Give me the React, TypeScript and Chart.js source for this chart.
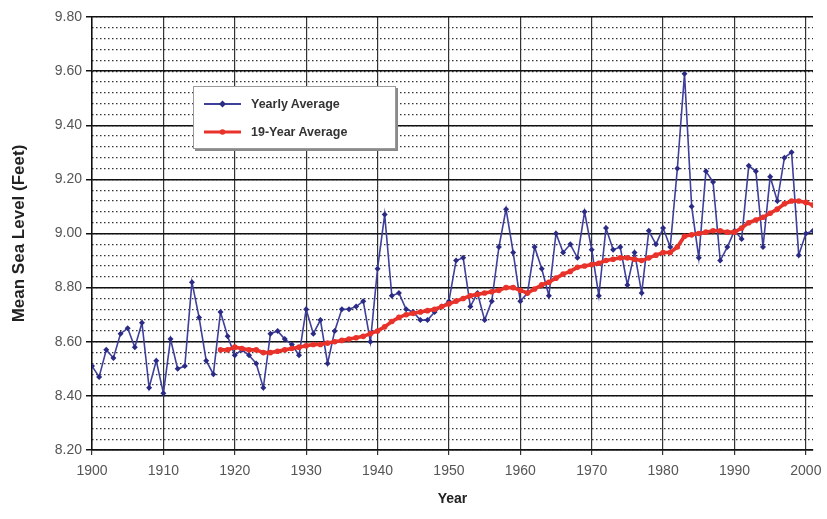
import React, { useEffect, useRef } from 'react';
import { Chart, registerables } from 'chart.js';

Chart.register(...registerables);

// ---- data ----
const YEARS = [
  1900, 1901, 1902, 1903, 1904, 1905, 1906, 1907, 1908, 1909,
  1910, 1911, 1912, 1913, 1914, 1915, 1916, 1917, 1918, 1919,
  1920, 1921, 1922, 1923, 1924, 1925, 1926, 1927, 1928, 1929,
  1930, 1931, 1932, 1933, 1934, 1935, 1936, 1937, 1938, 1939,
  1940, 1941, 1942, 1943, 1944, 1945, 1946, 1947, 1948, 1949,
  1950, 1951, 1952, 1953, 1954, 1955, 1956, 1957, 1958, 1959,
  1960, 1961, 1962, 1963, 1964, 1965, 1966, 1967, 1968, 1969,
  1970, 1971, 1972, 1973, 1974, 1975, 1976, 1977, 1978, 1979,
  1980, 1981, 1982, 1983, 1984, 1985, 1986, 1987, 1988, 1989,
  1990, 1991, 1992, 1993, 1994, 1995, 1996, 1997, 1998, 1999,
  2000, 2001,
];

const YEARLY_AVERAGE = [
  8.51, 8.47, 8.57, 8.54, 8.63, 8.65, 8.58, 8.67, 8.43, 8.53,
  8.41, 8.61, 8.50, 8.51, 8.82, 8.69, 8.53, 8.48, 8.71, 8.62,
  8.55, 8.57, 8.55, 8.52, 8.43, 8.63, 8.64, 8.61, 8.59, 8.55,
  8.72, 8.63, 8.68, 8.52, 8.64, 8.72, 8.72, 8.73, 8.75, 8.60,
  8.87, 9.07, 8.77, 8.78, 8.72, 8.71, 8.68, 8.68, 8.71, 8.73,
  8.75, 8.90, 8.91, 8.73, 8.78, 8.68, 8.75, 8.95, 9.09, 8.93,
  8.75, 8.78, 8.95, 8.87, 8.77, 9.00, 8.93, 8.96, 8.91, 9.08,
  8.94, 8.77, 9.02, 8.94, 8.95, 8.81, 8.93, 8.78, 9.01, 8.96,
  9.02, 8.95, 9.24, 9.59, 9.10, 8.91, 9.23, 9.19, 8.90, 8.95,
  9.01, 8.98, 9.25, 9.23, 8.95, 9.21, 9.12, 9.28, 9.30, 8.92,
  9.00, 9.01,
];

const AVG_YEARS = [
  1918, 1919, 1920, 1921, 1922, 1923, 1924, 1925, 1926, 1927,
  1928, 1929, 1930, 1931, 1932, 1933, 1934, 1935, 1936, 1937,
  1938, 1939, 1940, 1941, 1942, 1943, 1944, 1945, 1946, 1947,
  1948, 1949, 1950, 1951, 1952, 1953, 1954, 1955, 1956, 1957,
  1958, 1959, 1960, 1961, 1962, 1963, 1964, 1965, 1966, 1967,
  1968, 1969, 1970, 1971, 1972, 1973, 1974, 1975, 1976, 1977,
  1978, 1979, 1980, 1981, 1982, 1983, 1984, 1985, 1986, 1987,
  1988, 1989, 1990, 1991, 1992, 1993, 1994, 1995, 1996, 1997,
  1998, 1999, 2000, 2001,
];

const NINETEEN_YEAR_AVERAGE = [
  8.570, 8.570, 8.580, 8.575, 8.570, 8.570, 8.560, 8.560, 8.565, 8.570,
  8.575, 8.580, 8.585, 8.590, 8.590, 8.595, 8.600, 8.605, 8.610, 8.615,
  8.620, 8.630, 8.640, 8.655, 8.675, 8.690, 8.700, 8.705, 8.710, 8.715,
  8.720, 8.730, 8.740, 8.750, 8.760, 8.770, 8.775, 8.780, 8.785, 8.790,
  8.800, 8.800, 8.790, 8.780, 8.795, 8.810, 8.820, 8.835, 8.850, 8.860,
  8.875, 8.880, 8.885, 8.890, 8.900, 8.905, 8.910, 8.910, 8.905, 8.900,
  8.910, 8.920, 8.930, 8.930, 8.950, 8.990, 8.995, 9.000, 9.005, 9.010,
  9.010, 9.005, 9.005, 9.020, 9.040, 9.050, 9.060, 9.075, 9.090, 9.110,
  9.120, 9.120, 9.115, 9.105,
];

const SERIES_LABELS = ['Yearly Average', '19-Year Average'];
const SERIES_COLORS = ['#3f3f9c', '#e8322a'];
const MARKER_COLORS = ['#2b2b85', '#e8322a'];

const X_TITLE = 'Year';
const Y_TITLE = 'Mean Sea Level (Feet)';
const X_MIN = 1900;
const X_MAX = 2001;
const X_STEP = 10;
const Y_MIN = 8.2;
const Y_MAX = 9.8;
const Y_MAJOR_STEP = 0.2;
const Y_MINOR_STEP = 0.04;

const FONT = "Arial, 'Liberation Sans', Helvetica, sans-serif";

function Legend() {
  return (
    <div
      style={{
        position: 'absolute',
        left: 193,
        top: 86,
        width: 203,
        height: 63,
        boxSizing: 'border-box',
        background: '#ffffff',
        border: '1px solid #9a9a9a',
        boxShadow: '2px 2px 0 #8a8a8a',
        paddingTop: 3,
        fontFamily: FONT,
        fontWeight: 'bold',
        fontSize: 12.5,
        color: '#333',
      }}
    >
      {SERIES_LABELS.map((label, i) => (
        <div key={label} style={{ display: 'flex', alignItems: 'center', height: 28, paddingLeft: 10 }}>
          <svg width={37} height={10} style={{ display: 'block' }}>
            <line x1={0} y1={5} x2={37} y2={5} stroke={SERIES_COLORS[i]} strokeWidth={i === 0 ? 1.8 : 3} />
            {i === 0 ? (
              <polygon points="18.5,1.5 22,5 18.5,8.5 15,5" fill={MARKER_COLORS[i]} />
            ) : (
              <circle cx={18.5} cy={5} r={2.8} fill={MARKER_COLORS[i]} />
            )}
          </svg>
          <span style={{ marginLeft: 10, whiteSpace: 'nowrap' }}>{label}</span>
        </div>
      ))}
    </div>
  );
}

export default function App() {
  const canvasRef = useRef<HTMLCanvasElement | null>(null);

  useEffect(() => {
    const canvas = canvasRef.current;
    if (!canvas) return;

    const yearlyPoints = YEARS.map((x, i) => ({ x, y: YEARLY_AVERAGE[i] }));
    const avgPoints = AVG_YEARS.map((x, i) => ({ x, y: NINETEEN_YEAR_AVERAGE[i] }));

    const chart = new Chart(canvas, {
      type: 'line',
      data: {
        datasets: [
          {
            label: SERIES_LABELS[0],
            data: yearlyPoints,
            borderColor: SERIES_COLORS[0],
            backgroundColor: MARKER_COLORS[0],
            borderWidth: 1.6,
            pointStyle: 'rectRot',
            pointRadius: 3,
            pointBorderWidth: 0,
            pointBackgroundColor: MARKER_COLORS[0],
            tension: 0,
            order: 2,
            xAxisID: 'x',
            yAxisID: 'y',
          },
          {
            label: SERIES_LABELS[1],
            data: avgPoints,
            borderColor: SERIES_COLORS[1],
            backgroundColor: MARKER_COLORS[1],
            borderWidth: 3.6,
            pointStyle: 'circle',
            pointRadius: 2.8,
            pointBorderWidth: 0,
            pointBackgroundColor: MARKER_COLORS[1],
            tension: 0,
            order: 1,
            xAxisID: 'x',
            yAxisID: 'y',
          },
        ],
      },
      options: {
        responsive: false,
        animation: false,
        events: [],
        layout: { padding: { left: 0, top: 17, right: 14, bottom: 0 } },
        plugins: {
          legend: { display: false },
          tooltip: { enabled: false },
        },
        scales: {
          x: {
            type: 'linear',
            position: 'bottom',
            min: X_MIN,
            max: X_MAX,
            ticks: {
              stepSize: X_STEP,
              includeBounds: false,
              autoSkip: false,
              maxRotation: 0,
              color: '#555',
              padding: 8,
              font: { family: FONT, size: 14 },
              callback: (v: any) => (Number(v) % X_STEP === 0 ? String(v) : ''),
            },
            grid: {
              color: '#333333',
              lineWidth: 1.2,
              tickLength: 5,
            },
            border: { color: '#111', width: 1.5 },
            title: {
              display: true,
              text: X_TITLE,
              color: '#222',
              font: { family: FONT, size: 14, weight: 'bold' },
              padding: { top: 0, bottom: 11 },
            },
            afterFit: (s: any) => {
              s.height = 69;
              s.paddingLeft = 0;
              s.paddingRight = 0;
            },
          },
          yMinor: {
            type: 'linear',
            position: 'left',
            min: Y_MIN,
            max: Y_MAX,
            ticks: { stepSize: Y_MINOR_STEP, display: false, autoSkip: false },
            grid: { color: '#333333', lineWidth: 1.2, drawTicks: false },
            border: { display: false, dash: [1.5, 2.5] },
            afterFit: (s: any) => {
              s.width = 0;
            },
          },
          y: {
            type: 'linear',
            position: 'left',
            min: Y_MIN,
            max: Y_MAX,
            ticks: {
              stepSize: Y_MAJOR_STEP,
              autoSkip: false,
              color: '#555',
              padding: 4,
              font: { family: FONT, size: 14 },
              callback: (v: any) => Number(v).toFixed(2),
            },
            grid: { color: '#111', lineWidth: 1.5, tickLength: 6 },
            border: { color: '#111', width: 1.5 },
            title: {
              display: true,
              text: Y_TITLE,
              color: '#222',
              font: { family: FONT, size: 17, weight: 'bold' },
              padding: { top: 9, bottom: 0 },
            },
            afterFit: (s: any) => {
              s.width = 92;
              s.paddingTop = 0;
              s.paddingBottom = 0;
            },
          },
        },
      },
    });

    return () => {
      chart.destroy();
    };
  }, []);

  return (
    <div style={{ position: 'absolute', left: 0, top: 0, width: 827, height: 519, background: '#fff' }}>
      <canvas ref={canvasRef} width={827} height={519} style={{ display: 'block' }} />
      <Legend />
    </div>
  );
}
